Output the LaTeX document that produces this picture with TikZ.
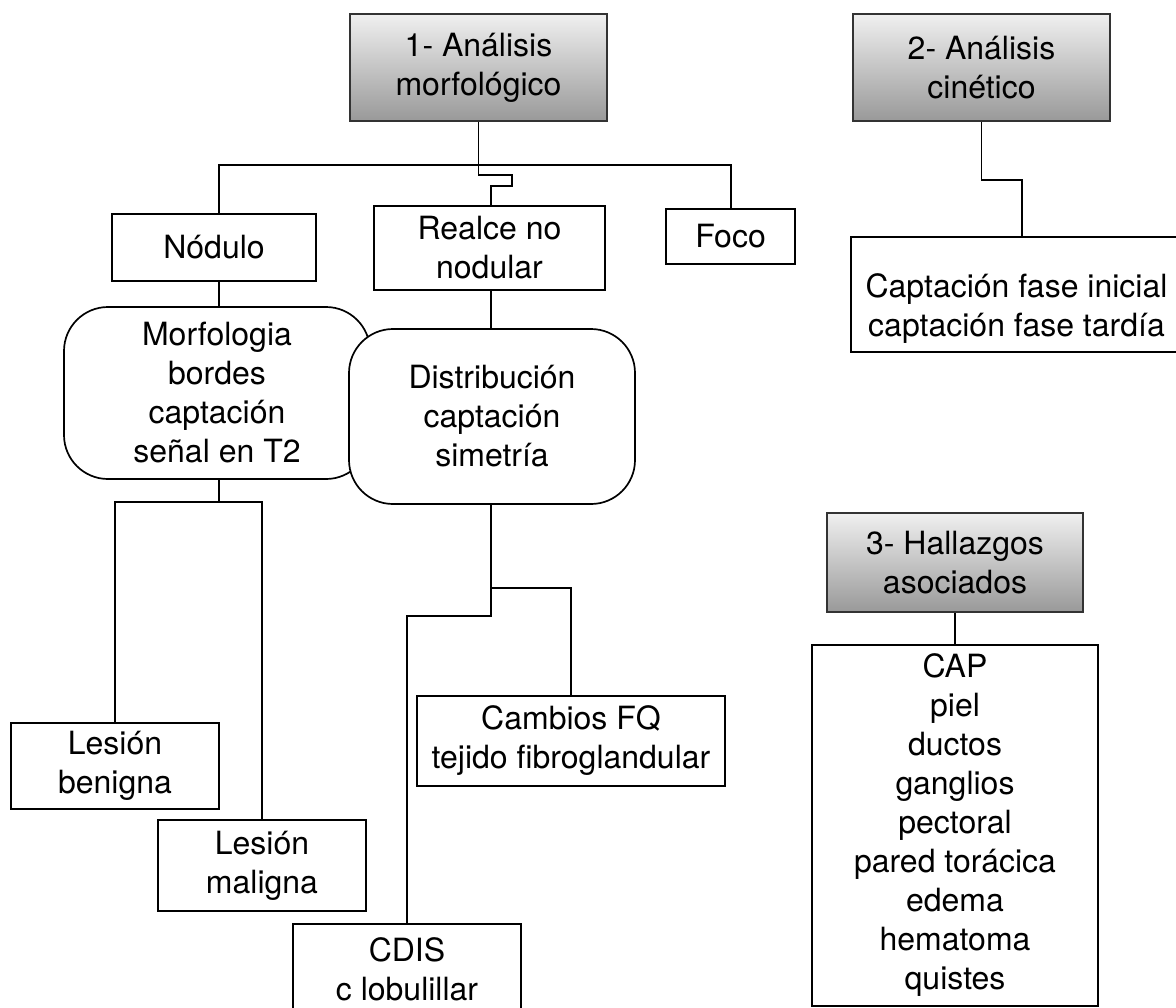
\documentclass[tikz,border=0pt]{standalone}
\usepackage{fontspec}
\setmainfont{TeX Gyre Heros}
\begin{document}
\begin{tikzpicture}[x=0.5pt,y=-0.5pt,
  box/.style={draw=black, line width=0.85pt, fill=white, inner sep=0pt, align=center,
              font=\fontsize{16}{19.5}\selectfont},
  head/.style={box, top color=black!6, bottom color=black!40, draw=black!80},
  rbox/.style={box, rounded corners=22pt},
  link/.style={line width=0.85pt, line join=miter}]
\useasboundingbox (0,0) rectangle (1176,1007);
\clip (0,0) rectangle (1176,1007);

% headers
\node[head, minimum width=128.5pt, minimum height=53.5pt] (b1) at (478.5,67.5) {1- Análisis\\morfológico};
\node[head, minimum width=128.5pt, minimum height=53.5pt] (b2) at (981.5,67.5) {2- Análisis\\cinético};
\node[head, minimum width=128pt, minimum height=49.5pt] (b3) at (955,562.5) {3- Hallazgos\\asociados};

% second level
\node[box, minimum width=102pt, minimum height=33.5pt] (nod) at (214,247.5) {Nódulo};
\node[box, minimum width=115.5pt, minimum height=42pt] (realce) at (489.5,248) {Realce no\\nodular};
\node[box, minimum width=64.5pt, minimum height=27.5pt] (foco) at (730.5,236.5) {Foco};
\node[box, minimum width=165.5pt, minimum height=57.5pt] (capt) at (1016.5,294.5) {};
\node[align=center, inner sep=0pt, font=\fontsize{16}{19.5}\selectfont] (captt) at ([yshift=-7pt]capt.center) {Captación fase inicial\\captación fase tardía};

% rounded boxes
\node[rbox, minimum width=153pt, minimum height=86pt] (morf) at (217,393) {Morfologia\\bordes\\captación\\señal en T2};
\node[rbox, minimum width=143pt, minimum height=87.5pt] (dist) at (492,416.5) {Distribución\\captación\\simetría};

% leaves
\node[box, minimum width=104pt, minimum height=43pt] (ben) at (115,766) {Lesión\\benigna};
\node[box, minimum width=104pt, minimum height=45.5pt] (mal) at (262,865.5) {Lesión\\maligna};
\node[box, minimum width=154pt, minimum height=45pt] (camb) at (571,741) {Cambios FQ\\tejido fibroglandular};
\node[box, minimum width=114pt, minimum height=45pt] (cdis) at (407,969) {CDIS\\c lobulillar};
\node[box, minimum width=143pt, minimum height=180.5pt] (cap) at (955,825.5) {CAP\\piel\\ductos\\ganglios\\pectoral\\pared torácica\\edema\\hematoma\\quistes};

% helper coordinates
\coordinate (hL) at (219,165);
\coordinate (hR) at (731,165);
\coordinate (jA) at (512,175);
\coordinate (jx) at (491,186);
\coordinate (mB) at (219,502);
\coordinate (dA) at (491,588);
\coordinate (dB) at (491,616);
\coordinate (k) at (1022,180);

% connectors from box 1
\draw[link] (hL |- nod.north) -- (hL) -- (hR) -- (hR |- foco.north);
\draw[link] (b1.south) -- (b1.south |- jA) -- (jA) -- (jA |- jx) -- (jx) -- (jx |- realce.north);
\draw[link] (hL |- nod.south) -- (hL |- morf.north);
\draw[link] (jx |- realce.south) -- (jx |- dist.north);

% from Morfologia
\draw[link] (mB |- morf.south) -- (mB);
\draw[link] (ben.north) |- (mal.north |- mB) -- (mal.north);

% from Distribucion
\draw[link] (jx |- dist.south) -- (dB) -| (cdis.north);
\draw[link] (dA) -| (camb.north);

% box 2 and 3
\draw[link] (b2.south) |- (k) -- (k |- capt.north);
\draw[link] (b3.south) -- (b3.south |- cap.north);
\end{tikzpicture}
\end{document}
